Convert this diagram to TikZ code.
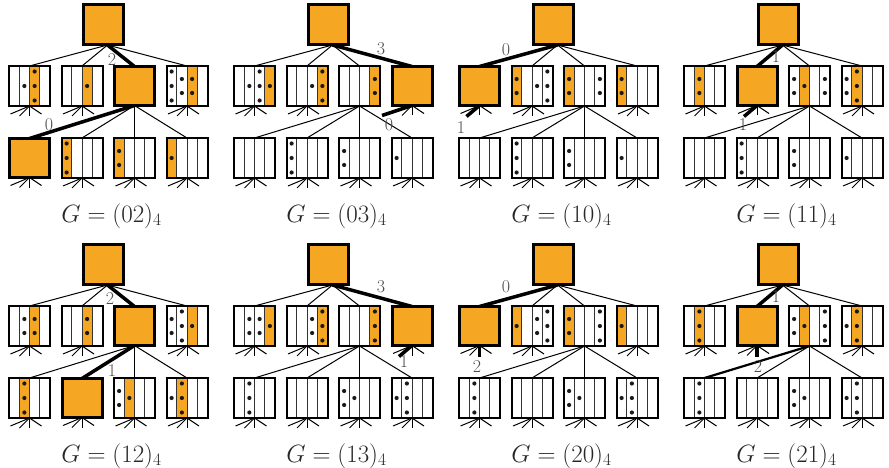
\RequirePackage{fix-cm}
\documentclass[tikz,border=0pt]{standalone}
\usepackage{fontspec}
\usetikzlibrary{backgrounds}
\definecolor{qorange}{RGB}{245,166,35}
\tikzset{
  qbfr/.style={draw, line width=2pt, minimum width=41pt, minimum height=40pt, inner sep=0pt, outer sep=0pt},
  obox/.style={draw, line width=3pt, fill=qorange, minimum width=40pt, minimum height=39pt, inner sep=0pt, outer sep=0pt},
  tbox/.style={draw, line width=3pt, fill=qorange, minimum width=40pt, minimum height=40pt, inner sep=0pt, outer sep=0pt},
  thinedge/.style={line width=1pt},
  thickedge/.style={line width=3.5pt},
  dividers/.style={line width=1pt, draw=black!80},
  elabel/.style={text=black!70, font=\fontsize{18}{18}\selectfont, inner sep=0pt},
  glabel/.style={text=black!85, font=\fontsize{25}{30}\selectfont, anchor=base, inner sep=0pt},
}
\def\FullMark{F}
% box with four columns: name, cx, cy, spec (macro holding o/n list)
\newcommand{\qbox}[4]{%
  \fill[white] ({#2-20.5},{#3-20}) rectangle ({#2+20.5},{#3+20});
  \foreach \o/\n [count=\i from 0] in #4 {%
    \ifnum\o=1\relax
      \fill[qorange] ({#2-20.5+10.25*\i},{#3-20}) rectangle ({#2-20.5+10.25*(\i+1)},{#3+20});
    \fi
  }
  \foreach \i in {1,2,3} \draw[dividers] ({#2-20.5+10.25*\i},{#3-20}) -- ({#2-20.5+10.25*\i},{#3+20});
  \foreach \o/\n [count=\i from 0] in #4 {%
    \pgfmathsetmacro\qxx{#2-20.5+10.25*(\i+0.5)}
    \ifcase\n\relax
    \or \fill[black!90] (\qxx,#3) circle (2.1pt);
    \or \fill[black!90] (\qxx,{#3-7}) circle (2.1pt); \fill[black!90] (\qxx,{#3+7}) circle (2.1pt);
    \or \fill[black!90] (\qxx,{#3-14.5}) circle (2.1pt); \fill[black!90] (\qxx,#3) circle (2.1pt); \fill[black!90] (\qxx,{#3+14.5}) circle (2.1pt);
    \fi
  }
  \node[qbfr] (#1) at (#2,#3) {};
}
% panel: prefix, sel1, sel2, middle specs, bottom specs, label1 pos, label2 pos
\newcommand{\panel}[7]{%
  \node[tbox] (#1-t) at (103.5,24.5) {};
  \coordinate (#1-h) at (107.5,45);
  \foreach \s [count=\k from 0] in {#4} {%
    \pgfmathsetmacro\qcx{29.5+52.5*\k}
    \edef\tmp{\s}%
    \ifx\tmp\FullMark
      \node[obox] (#1-m\k) at (\qcx,86) {};
    \else
      \qbox{#1-m\k}{\qcx}{86}{\s}
    \fi
  }
  \foreach \s [count=\k from 0] in {#5} {%
    \pgfmathsetmacro\qcx{29.5+52.5*\k}
    \edef\tmp{\s}%
    \ifx\tmp\FullMark
      \node[obox] (#1-b\k) at (\qcx,158) {};
    \else
      \qbox{#1-b\k}{\qcx}{158}{\s}
    \fi
  }
  \begin{pgfonlayer}{background}
    \foreach \k in {0,1,2,3} {%
      \def\est{thinedge}\ifnum\k=#2\relax\def\est{thickedge}\fi
      \draw[\est] (#1-h) -- (#1-m\k.north);
      \def\est{thinedge}\ifnum#2=2\relax\ifnum\k=#3\relax\def\est{thickedge}\fi\fi
      \draw[\est] (#1-m2.south) -- (#1-b\k.north);
    }
    \foreach \k in {0,1,3} {%
      \foreach \d/\dx/\dy/\tx/\ty in {0/-19/8/-30/10,1/-10/10/-13/11,2/0/10/0/11,3/12/8/15/10} {%
        \ifnum\k=#2\relax\ifnum\d=#3\relax
          \draw[thickedge] (#1-m\k.south) -- ++(\tx,\ty);
        \else
          \draw[thinedge] (#1-m\k.south) -- ++(\dx,\dy);
        \fi\else
          \draw[thinedge] (#1-m\k.south) -- ++(\dx,\dy);
        \fi
      }
    }
    \foreach \k in {0,1,2,3} {%
      \foreach \dx/\dy in {-19/8,-10/10,0/10,12/8} \draw[thinedge] (#1-b\k.south) -- ++(\dx,\dy);
    }
  \end{pgfonlayer}
  \node[elabel] (#1-l1) at (#6) {#2};
  \node[elabel] (#1-l2) at (#7) {#3};
  \node[glabel] (#1-g) at (111.5,222) {$G=(#3#2)_4$};
}
\begin{document}
\begin{tikzpicture}[x=1pt,y=-1pt]
\useasboundingbox (0,0) rectangle (889,468);
\begin{scope}
\panel{a}{2}{0}{{0/0,0/1,1/3,0/0},{0/0,0/0,1/1,0/0},F,{0/3,0/2,1/2,0/0}}{F,{1/3,0/0,0/0,0/0},{1/2,0/0,0/0,0/0},{1/1,0/0,0/0,0/0}}{112,60}{49,125}
\end{scope}
\begin{scope}[shift={(225,0)}]
\panel{b}{3}{0}{{0/0,0/1,0/3,1/1},{0/0,0/0,0/1,1/3},{0/0,0/0,0/0,1/2},F}{{0/0,0/0,0/0,0/0},{0/3,0/0,0/0,0/0},{0/2,0/0,0/0,0/0},{0/1,0/0,0/0,0/0}}{156,49}{164,125}
\end{scope}
\begin{scope}[shift={(450,0)}]
\panel{c}{0}{1}{F,{1/2,0/0,0/1,0/3},{1/2,0/0,0/0,0/2},{1/2,0/0,0/0,0/0}}{{0/0,0/0,0/0,0/0},{0/3,0/0,0/0,0/0},{0/2,0/0,0/0,0/0},{0/1,0/0,0/0,0/0}}{56,50}{11,128}
\end{scope}
\begin{scope}[shift={(675,0)}]
\panel{d}{1}{1}{{0/0,1/2,0/0,0/0},F,{0/2,1/1,0/0,0/2},{0/2,1/3,0/0,0/0}}{{0/0,0/0,0/0,0/0},{0/3,0/0,0/0,0/0},{0/2,0/0,0/0,0/0},{0/1,0/0,0/0,0/0}}{101,57}{68,125}
\end{scope}
\begin{scope}[shift={(0,240)}]
\panel{e}{2}{1}{{0/0,0/2,1/2,0/0},{0/0,0/0,1/2,0/0},F,{0/2,0/3,1/1,0/0}}{{0/0,1/3,0/0,0/0},F,{0/2,1/1,0/0,0/0},{0/1,1/3,0/0,0/0}}{110,59}{112,131}
\end{scope}
\begin{scope}[shift={(225,240)}]
\panel{f}{3}{1}{{0/0,0/2,0/2,1/1},{0/0,0/0,0/2,1/3},{0/0,0/0,0/0,1/3},F}{{0/0,0/3,0/0,0/0},{0/0,0/0,0/0,0/0},{0/2,0/1,0/0,0/0},{0/1,0/3,0/0,0/0}}{156,47}{179,122}
\end{scope}
\begin{scope}[shift={(450,240)}]
\panel{g}{0}{2}{F,{1/1,0/0,0/2,0/3},{1/2,0/0,0/0,0/3},{1/1,0/0,0/0,0/0}}{{0/0,0/3,0/0,0/0},{0/0,0/0,0/0,0/0},{0/2,0/1,0/0,0/0},{0/1,0/3,0/0,0/0}}{56,47}{27,127}
\end{scope}
\begin{scope}[shift={(675,240)}]
\panel{h}{1}{2}{{0/0,1/3,0/0,0/0},F,{0/2,1/1,0/0,0/3},{0/1,1/3,0/0,0/0}}{{0/0,0/3,0/0,0/0},{0/0,0/0,0/0,0/0},{0/2,0/1,0/0,0/0},{0/1,0/3,0/0,0/0}}{101,57}{83,127}
\begin{pgfonlayer}{background}
\draw[line width=2.2pt] (h-m2.south) -- (h-b0.north);
\end{pgfonlayer}
\end{scope}
\end{tikzpicture}
\end{document}
